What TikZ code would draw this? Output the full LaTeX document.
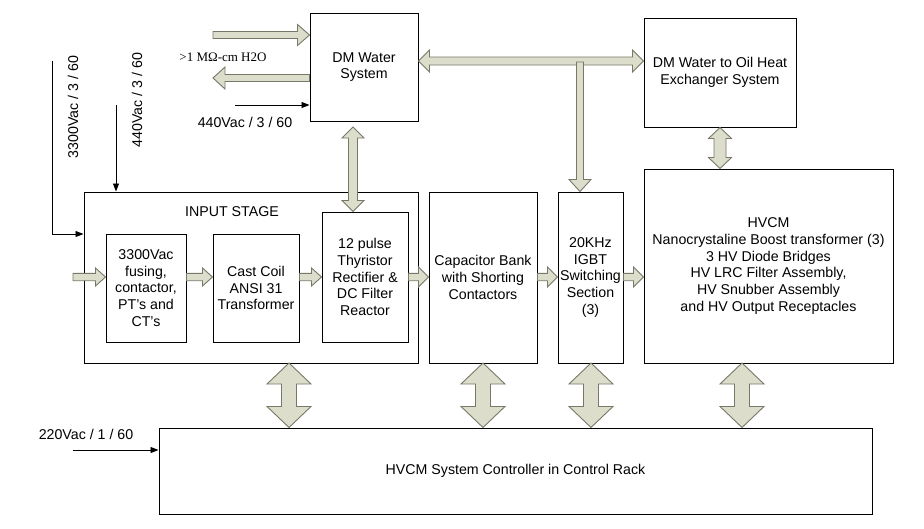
\documentclass[tikz,border=0pt]{standalone}
\usepackage{fontspec}
\setmainfont{Liberation Sans}
\newfontfamily\serifx{Liberation Serif}
\usetikzlibrary{calc,arrows.meta}
\definecolor{fatfill}{RGB}{221,221,204}
\definecolor{fatline}{RGB}{120,120,105}
\newcommand\fs{\fontsize{14.2}{16.8}\selectfont}
\tikzset{
  box/.style={draw, line width=1pt, inner sep=0pt, align=center, font=\fs},
  lbl/.style={inner sep=0pt, align=center, font=\fs},
  thinarrow/.style={line width=0.9pt, -{Triangle[length=8pt,width=6pt]}},
  fatarrow/.style={fill=fatfill, draw=fatline, line width=0.9pt, line join=miter}
}
% single fat arrow: from, to, shaft half, head half, head length
\newcommand\fatone[5]{%
  \coordinate (fac) at ($(#2)!#5!(#1)$);
  \filldraw[fatarrow] ($(#1)!#3!90:(#2)$) -- ($(fac)!#3!90:(#2)$) -- ($(fac)!#4!90:(#2)$) -- (#2)
    -- ($(fac)!#4!-90:(#2)$) -- ($(fac)!#3!-90:(#2)$) -- ($(#1)!#3!-90:(#2)$) -- cycle;}
% double fat arrow
\newcommand\fattwo[5]{%
  \coordinate (fa1) at ($(#1)!#5!(#2)$);
  \coordinate (fa2) at ($(#2)!#5!(#1)$);
  \filldraw[fatarrow] (#1) -- ($(fa1)!#4!90:(#2)$) -- ($(fa1)!#3!90:(#2)$) -- ($(fa2)!#3!90:(#2)$)
    -- ($(fa2)!#4!90:(#2)$) -- (#2) -- ($(fa2)!#4!-90:(#2)$) -- ($(fa2)!#3!-90:(#2)$)
    -- ($(fa1)!#3!-90:(#2)$) -- ($(fa1)!#4!-90:(#2)$) -- cycle;}
\begin{document}
\begin{tikzpicture}[x=1pt,y=-1pt]
\useasboundingbox[fill=white] (0,0) rectangle (924,528);

% boxes
\node[box, minimum width=108pt, minimum height=108pt] (dm) at (364,67) {DM Water\\System};
\node[box, minimum width=152pt, minimum height=109pt] (hx) at (720,72.5) {DM Water to Oil Heat\\Exchanger System};
\node[box, minimum width=249pt, minimum height=194pt] (hvcm) at (768.5,266) {HVCM\\Nanocrystaline Boost transformer (3)\\3 HV Diode Bridges\\HV LRC Filter Assembly,\\HV Snubber Assembly\\and HV Output Receptacles};
\node[box, minimum width=334pt, minimum height=171pt] (inp) at (251,277.5) {};
\node[lbl] (inptitle) at (232,212) {INPUT STAGE};
\node[box, minimum width=80pt, minimum height=108pt] (b1) at (146,288) {3300Vac\\fusing,\\contactor,\\PT's and\\CT's};
\node[box, minimum width=86pt, minimum height=108pt] (b2) at (256,288) {Cast Coil\\ANSI 31\\Transformer};
\node[box, minimum width=86pt, minimum height=130pt] (b3) at (365,277) {12 pulse\\Thyristor\\Rectifier \&\\DC Filter\\Reactor};
\node[box, minimum width=108pt, minimum height=171pt] (cap) at (483,277.5) {Capacitor Bank\\with Shorting\\Contactors};
\node[box, minimum width=65pt, minimum height=171pt] (igbt) at (590.5,277.5) {20KHz\\IGBT\\Switching\\Section\\(3)};
\node[box, minimum width=713pt, minimum height=86pt] (ctrl) at (515.5,471) {HVCM System Controller in Control Rack};

% labels
\node[lbl, rotate=90] (l3300) at (73,107) {3300Vac / 3 / 60};
\node[lbl, rotate=90] (l440) at (137,100) {440Vac / 3 / 60};
\node[lbl, font=\serifx\fontsize{13}{15}\selectfont] (lwater) at (223,57) {>1 MΩ-cm H2O};
\node[lbl] (l440b) at (245,122) {440Vac / 3 / 60};
\node[lbl] (l220) at (86,434) {220Vac / 1 / 60};

% thin connectors
\coordinate (v1) at (52,61);
\coordinate (v1c) at (52,234);
\draw[thinarrow] (v1) -- (v1c) -- (inp.west |- v1c);
\coordinate (v2) at (116,105);
\draw[thinarrow] (v2) -- (v2 |- inp.north);
\coordinate (pIn) at (235,105);
\draw[thinarrow] (pIn) -- (dm.west |- pIn);
\coordinate (v3) at (73,450);
\draw[thinarrow] (v3) -- (ctrl.west |- v3);

% water in/out
\coordinate (wIn) at (213,35);
\fatone{wIn}{dm.west |- wIn}{3.5pt}{10.5pt}{12pt}
\coordinate (wOut) at (213,78);
\fatone{dm.west |- wOut}{wOut}{3.5pt}{11pt}{12pt}

% DM <-> HX with branch to IGBT
\coordinate (hy) at (0,61);
\fattwo{dm.east |- hy}{hx.west |- hy}{4pt}{11pt}{11pt}
\coordinate (brT) at (580,62);
\fatone{brT}{brT |- igbt.north}{3.5pt}{11pt}{12pt}

% DM <-> rectifier
\coordinate (drT) at (353,127);
\fattwo{drT}{drT |- b3.north}{4.5pt}{11pt}{11pt}

% HX <-> HVCM
\fattwo{hx.south}{hx.south |- hvcm.north}{6pt}{11.5pt}{11pt}

% power flow row
\coordinate (ry) at (0,277);
\coordinate (inL) at (73,277);
\fatone{inL}{b1.west |- ry}{3.7pt}{9pt}{10pt}
\fatone{b1.east |- ry}{b2.west |- ry}{3.7pt}{9pt}{10pt}
\fatone{b2.east |- ry}{b3.west |- ry}{3.7pt}{9pt}{10pt}
\fatone{b3.east |- ry}{cap.west |- ry}{3.7pt}{10pt}{10pt}
\fatone{cap.east |- ry}{igbt.west |- ry}{3.7pt}{10pt}{10pt}
\fatone{igbt.east |- ry}{hvcm.west |- ry}{3.7pt}{10pt}{10pt}

% controller links
\coordinate (d1) at (289,363);
\coordinate (d2) at (483,363);
\coordinate (d3) at (591,363);
\coordinate (d4) at (742,363);
\fattwo{d1}{d1 |- ctrl.north}{7.5pt}{22pt}{21pt}
\fattwo{d2}{d2 |- ctrl.north}{7.5pt}{22pt}{21pt}
\fattwo{d3}{d3 |- ctrl.north}{7.5pt}{22pt}{21pt}
\fattwo{d4}{d4 |- ctrl.north}{7.5pt}{22pt}{21pt}
\end{tikzpicture}
\end{document}
